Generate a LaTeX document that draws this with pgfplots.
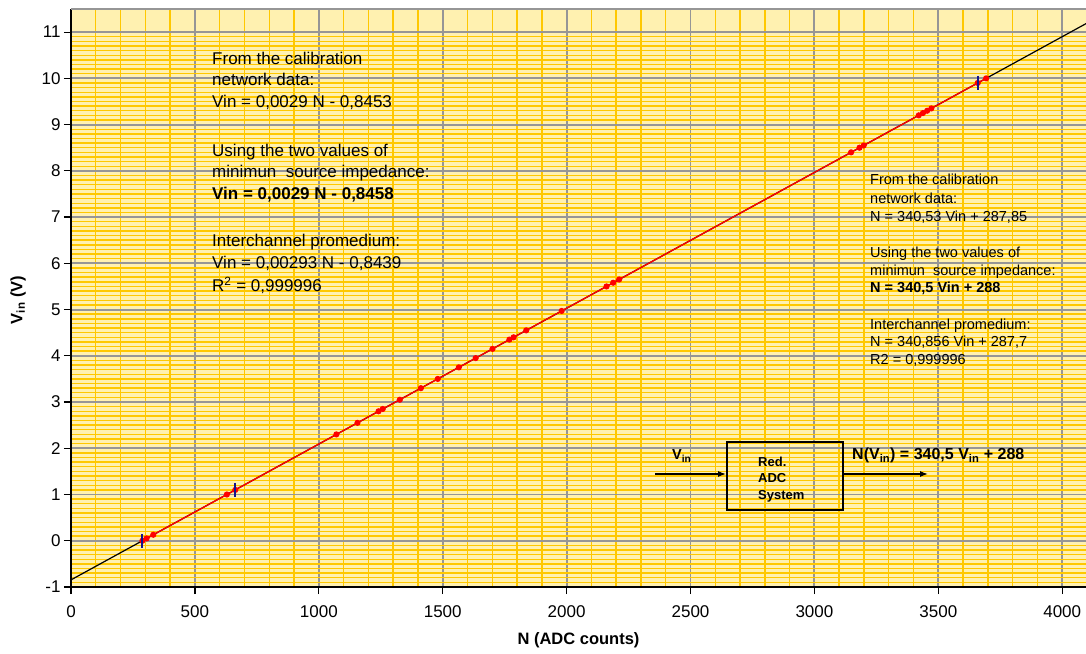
\documentclass[border=0pt]{standalone}
\usepackage{fontspec}
\setmainfont{Liberation Sans}
\usepackage{pgfplots}
\usepackage{pgfplotstable}
\pgfplotsset{compat=1.18}
\usetikzlibrary{arrows.meta}
\definecolor{plotbg}{RGB}{255,241,176}
\definecolor{gridyellow}{RGB}{255,200,0}
\definecolor{gridgray}{RGB}{150,150,150}
\definecolor{markblue}{RGB}{20,20,140}

% measured ADC response: input voltage vs. counts
\pgfplotstableread{
N     Vin
288   0.00
305   0.05
332   0.13
629   1.00
663   1.10
1071  2.30
1156  2.55
1241  2.80
1258  2.85
1327  3.05
1412  3.30
1480  3.50
1565  3.75
1633  3.95
1701  4.15
1769  4.35
1786  4.40
1837  4.55
1980  4.97
2161  5.50
2188  5.58
2212  5.65
3148  8.40
3182  8.50
3199  8.55
3421  9.20
3438  9.25
3455  9.30
3472  9.35
3659  9.90
3693  10.00
}\measured

\begin{document}
\begin{tikzpicture}[x=1pt,y=1pt]
\begin{axis}[
  at={(0,0)}, anchor=south west,
  width=1015pt, height=578pt, scale only axis,
  xmin=0, xmax=4096, ymin=-1, ymax=11.5,
  xtick={0,500,...,4000}, ytick={-1,0,...,11},
  minor x tick num=4, minor y tick num=9,
  grid=both,
  minor grid style={gridyellow, line width=1.4pt},
  major grid style={gridgray, line width=1.9pt},
  axis background/.style={fill=plotbg},
  axis x line*=bottom, axis y line*=left,
  axis line style={black, line width=1.6pt, -},
  tick align=outside, major tick length=7pt, minor tick length=0pt,
  every tick/.style={black, line width=1.2pt},
  ticklabel style={font=\fontsize{17}{20}\selectfont},
  xticklabel style={yshift=-8pt},
  /pgf/number format/assume math mode=true,
  /pgf/number format/set thousands separator={},
  xlabel={\textbf{N (ADC counts)}},
  ylabel={\textbf{V\textsubscript{in} (V)}},
  label style={font=\fontsize{16.5}{19}\selectfont},
  x label style={at={(axis description cs:0.5,-0.0917)}, anchor=center},
  y label style={at={(axis description cs:-0.0522,0.4965)}, anchor=center},
]
% fitted transfer line N = 340.5 Vin + 288
\addplot[black, line width=1.2pt] coordinates {(0,-0.8458) (4096,11.1835)};
% measured points
\addplot[red, line width=1.3pt, mark=*, mark size=2.4pt] table[x=N, y=Vin] {\measured};
% minimum source impedance points
\addplot[only marks, markblue, mark=|, mark size=7pt, line width=2pt]
  coordinates {(288,0) (663,1.1) (3659,9.9)};
\end{axis}

% top frame line
\draw[gridgray, line width=1.9pt] (0,578) -- (1015,578);

% left-hand notes
\begin{scope}[every node/.style={anchor=base west, inner sep=0pt, font=\fontsize{17}{20}\selectfont}]
\node at (141,522) {From the calibration};
\node at (141,501) {network data:};
\node at (141,479) {Vin = 0,0029 N - 0,8453};
\node at (141,430) {Using the two values of};
\node at (141,409) {minimun\ \ source impedance:};
\node at (141,387) {\textbf{Vin = 0,0029 N - 0,8458}};
\node at (141,340) {Interchannel promedium:};
\node at (141,318) {Vin = 0,00293 N - 0,8439};
\node at (141,295) {R\textsuperscript{2} = 0,999996};
\end{scope}

% right-hand notes
\begin{scope}[every node/.style={anchor=base west, inner sep=0pt, font=\fontsize{14.5}{17}\selectfont}]
\node at (799,402) {From the calibration};
\node at (799,383.5) {network data:};
\node at (799,365.5) {N = 340,53 Vin + 287,85};
\node at (799,329.5) {Using the two values of};
\node at (799,311) {minimun\ \ source impedance:};
\node at (799,294) {\textbf{N = 340,5 Vin + 288}};
\node at (799,257.5) {Interchannel promedium:};
\node at (799,240) {N = 340,856 Vin + 287,7};
\node at (799,222) {R2 = 0,999996};
\end{scope}

% block diagram
\node[anchor=base west, inner sep=0pt, font=\bfseries\fontsize{14.5}{16}\selectfont] at (601,127) {V\textsubscript{in}};
\draw[-{Latex[length=8pt,width=6pt]}, line width=1.2pt] (584,113) -- (655,113);
\draw[line width=2.5pt] (656,77) rectangle (772,145);
\begin{scope}[every node/.style={anchor=base west, inner sep=0pt, font=\bfseries\fontsize{13}{15}\selectfont}]
\node at (687,121) {Red.};
\node at (687,104) {ADC};
\node at (687,88) {System};
\end{scope}
\node[anchor=base west, inner sep=0pt, font=\bfseries\fontsize{16}{18}\selectfont] at (781,127)
  {N(V\textsubscript{in}) = 340,5 V\textsubscript{in} + 288};
\draw[-{Latex[length=8pt,width=6pt]}, line width=1.2pt] (772,113) -- (857,113);

\pgfresetboundingbox
\path (-71,-66) rectangle (1015,587);
\end{tikzpicture}
\end{document}
